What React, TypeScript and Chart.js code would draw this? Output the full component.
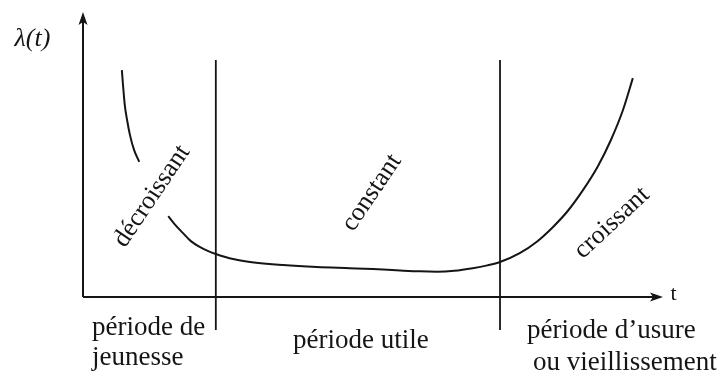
import React, { useEffect, useRef } from "react";
import { Chart, registerables } from "chart.js";

Chart.register(...registerables);

// Bathtub curve: time t (0..100 along the axis) vs failure rate λ(t) (0..100 up the axis)
const EARLY_T = [6.7, 6.9, 7.2, 7.6, 8.1, 8.8, 9.7];
const EARLY_L = [79.6, 74.4, 67.4, 62.1, 56.8, 51.6, 47.4];

const MAIN_T = [
  14.7, 15.9, 17.2, 18.6, 20.2, 21.6, 22.9, 25.9, 28.8, 34.5, 40.3, 46.0, 50.0,
  54.7, 58.1, 61.0, 64.0, 67.2, 69.7, 71.9, 75.3, 78.3, 81.0, 83.5, 86.2, 88.8,
  91.0, 93.1, 94.8,
];
const MAIN_L = [
  28.4, 25.3, 22.5, 19.6, 17.5, 16.1, 15.1, 13.3, 12.3, 11.2, 10.5, 10.1, 9.8,
  9.3, 9.0, 8.9, 9.2, 10.1, 11.1, 12.3, 15.4, 19.5, 24.5, 30.0, 37.5, 46.0,
  55.0, 65.6, 76.8,
];

// Boundaries between the three periods (t) and their vertical extent (λ)
const BOUNDARIES = [22.9, 71.9];
const BOUNDARY_SPAN = [-11.6, 83.2];

const AXIS_Y_LABEL = "λ(t)";
const AXIS_X_LABEL = "t";
const TREND_LABELS = ["décroissant", "constant", "croissant"];
const PERIOD_LABELS = [
  "période de",
  "jeunesse",
  "période utile",
  "période d’usure",
  "ou vieillissement",
];

// Layout (positions in data units, angles in degrees)
const TREND_POS = [
  { x: 11.9, y: 35.4, a: -56 },
  { x: 49.8, y: 36.6, a: -56 },
  { x: 91.2, y: 26.0, a: -43 },
];
const PERIOD_POS = [
  { x: 1.55, y: -13.3 },
  { x: 1.55, y: -23.9 },
  { x: 36.2, y: -17.9 },
  { x: 76.55, y: -14.4 },
  { x: 77.6, y: -25.6 },
];

const INK = "#151515";
const SERIF = '"Liberation Serif", "DejaVu Serif", serif';

const toPts = (xs: number[], ys: number[]) => xs.map((x, i) => ({ x, y: ys[i] }));

export default function App() {
  const ref = useRef<HTMLCanvasElement | null>(null);

  useEffect(() => {
    document.body.style.margin = "0";
    const canvas = ref.current;
    if (!canvas) return;

    const decor = {
      id: "decor",
      afterDatasetsDraw(chart: any) {
        const { ctx } = chart;
        const xs = chart.scales.x;
        const ys = chart.scales.y;
        const X = (v: number) => xs.getPixelForValue(v);
        const Y = (v: number) => ys.getPixelForValue(v);

        ctx.save();
        ctx.strokeStyle = INK;
        ctx.fillStyle = INK;
        ctx.lineWidth = 2;
        ctx.lineCap = "butt";

        // axes
        const ox = X(0);
        const oy = Y(0);
        const tx = X(100);
        const ty = Y(100);
        ctx.beginPath();
        ctx.moveTo(ox, oy);
        ctx.lineTo(ox, ty + 6);
        ctx.moveTo(ox, oy);
        ctx.lineTo(tx - 6, oy);
        ctx.stroke();

        // arrow heads
        ctx.beginPath();
        ctx.moveTo(ox, ty);
        ctx.lineTo(ox - 4.5, ty + 13);
        ctx.lineTo(ox, ty + 10);
        ctx.lineTo(ox + 4.5, ty + 13);
        ctx.closePath();
        ctx.fill();
        ctx.beginPath();
        ctx.moveTo(tx, oy);
        ctx.lineTo(tx - 13, oy - 4.5);
        ctx.lineTo(tx - 10, oy);
        ctx.lineTo(tx - 13, oy + 4.5);
        ctx.closePath();
        ctx.fill();

        const text = (
          s: string,
          x: number,
          y: number,
          font: string,
          align: CanvasTextAlign,
          base: CanvasTextBaseline,
          angle = 0
        ) => {
          ctx.save();
          ctx.translate(X(x), Y(y));
          ctx.rotate((angle * Math.PI) / 180);
          ctx.font = font;
          ctx.textAlign = align;
          ctx.textBaseline = base;
          ctx.fillText(s, 0, 0);
          ctx.restore();
        };

        text(AXIS_Y_LABEL, -11.8, 88.2, `italic 26px ${SERIF}`, "left", "alphabetic");
        text(AXIS_X_LABEL, 101.3, -1.1, `22px ${SERIF}`, "left", "alphabetic");

        TREND_LABELS.forEach((s, i) => {
          const p = TREND_POS[i];
          text(s, p.x, p.y, `26px ${SERIF}`, "center", "middle", p.a);
        });
        PERIOD_LABELS.forEach((s, i) => {
          const p = PERIOD_POS[i];
          text(s, p.x, p.y, `27px ${SERIF}`, "left", "alphabetic");
        });
        ctx.restore();
      },
    };

    const lineStyle = {
      borderColor: INK,
      borderWidth: 2,
      pointRadius: 0,
      fill: false,
      clip: false as any,
      showLine: true,
    };

    const chart = new Chart(canvas, {
      type: "line",
      data: {
        datasets: [
          {
            ...lineStyle,
            data: toPts(EARLY_T, EARLY_L),
            cubicInterpolationMode: "monotone",
          },
          {
            ...lineStyle,
            data: toPts(MAIN_T, MAIN_L),
            cubicInterpolationMode: "monotone",
          },
          ...BOUNDARIES.map((b) => ({
            ...lineStyle,
            borderWidth: 1.8,
            data: BOUNDARY_SPAN.map((y) => ({ x: b, y })),
          })),
        ],
      },
      options: {
        animation: false,
        responsive: false,
        devicePixelRatio: 1,
        layout: {
          autoPadding: false,
          padding: { left: 83, right: 59, top: 12, bottom: 79 },
        },
        scales: {
          x: { type: "linear", min: 0, max: 100, display: false },
          y: { type: "linear", min: 0, max: 100, display: false },
        },
        plugins: {
          legend: { display: false },
          tooltip: { enabled: false },
        },
        events: [],
      } as any,
      plugins: [decor],
    });

    return () => chart.destroy();
  }, []);

  return (
    <div style={{ width: 722, height: 376, background: "#fff" }}>
      <canvas ref={ref} width={722} height={376} style={{ display: "block" }} />
    </div>
  );
}
